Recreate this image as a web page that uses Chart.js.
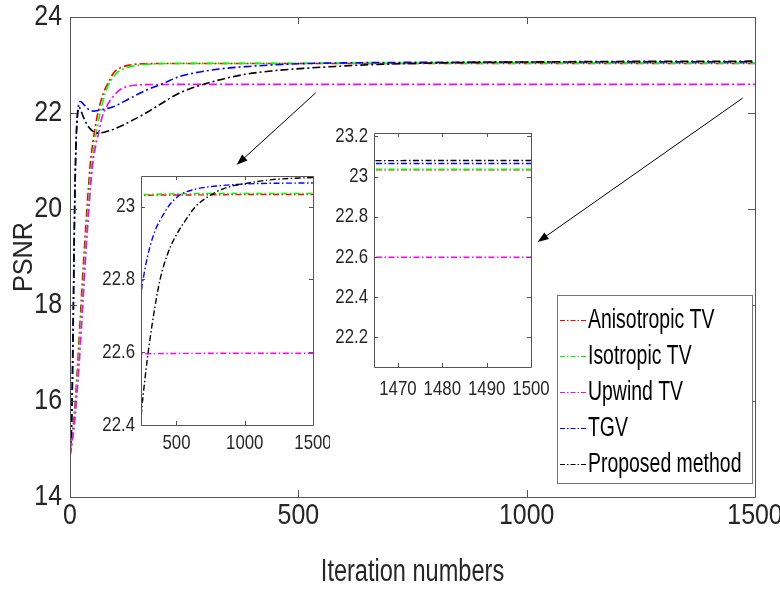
<!DOCTYPE html>
<html>
<head>
<meta charset="utf-8">
<script src="https://cdn.jsdelivr.net/npm/chart.js@4.4.0/dist/chart.umd.min.js"></script>
<style>
  html, body { margin: 0; padding: 0; background: #fff; }
  #wrap { position: relative; width: 780px; height: 590px; overflow: hidden; }
  canvas { position: absolute; }
  #mainChart { left: 0; top: 0; }
  #zoomA { left: 90px; top: 166px; }
  #zoomB { left: 320px; top: 120px; }
</style>
</head>
<body>
<div id="wrap">
  <canvas id="mainChart" width="780" height="590"></canvas>
  <canvas id="zoomA" width="240" height="300"></canvas>
  <canvas id="zoomB" width="240" height="290"></canvas>
</div>
<script>
const seriesNames = ['Anisotropic TV', 'Isotropic TV', 'Upwind TV', 'TGV', 'Proposed method'];
const seriesColors = ['#ff0000', '#00ff00', '#ff00ff', '#0000ff', '#000000'];

// PSNR vs iteration
const anisoIter = [0, 5, 10, 15, 20, 25, 30, 35, 40, 45, 50, 60, 73, 85, 95, 110, 131, 160, 200, 600, 1000, 1500];
const anisoPsnr = [14.85, 15.3, 15.8, 16.5, 17.3, 18.15, 18.95, 19.7, 20.4, 21.0, 21.38, 21.95, 22.41, 22.65, 22.83, 22.94, 23.0, 23.025, 23.03, 23.032, 23.033, 23.033];

const isoIter = [0, 5, 10, 15, 20, 25, 30, 35, 40, 45, 50, 55, 65, 77, 90, 102, 120, 146, 180, 250, 1000, 1500];
const isoPsnr = [14.85, 15.2, 15.65, 16.3, 17.0, 17.8, 18.6, 19.35, 20.05, 20.7, 21.1, 21.44, 21.95, 22.41, 22.68, 22.83, 22.93, 22.99, 23.02, 23.033, 23.036, 23.036];

const upwindIter = [0, 5, 10, 15, 20, 25, 30, 35, 40, 45, 50, 56, 62, 70, 80, 95, 109, 125, 146, 180, 1000, 1500];
const upwindPsnr = [14.85, 15.15, 15.55, 16.1, 16.75, 17.5, 18.3, 19.1, 19.8, 20.45, 20.95, 21.3, 21.55, 21.9, 22.13, 22.35, 22.48, 22.55, 22.58, 22.595, 22.597, 22.597];

const tgvIter = [0, 4, 7, 10, 13, 16, 19, 23, 30, 40, 51, 65, 80, 95, 130, 168, 200, 240, 270, 306, 350, 391, 450, 525, 630, 757, 1000, 1500];
const tgvPsnr = [14.9, 15.6, 17.5, 19.8, 21.3, 21.95, 22.18, 22.24, 22.18, 22.08, 22.04, 22.06, 22.09, 22.13, 22.3, 22.48, 22.6, 22.76, 22.83, 22.89, 22.94, 22.97, 23.005, 23.032, 23.047, 23.055, 23.062, 23.065];

const propIter = [0, 4, 7, 10, 13, 16, 20, 25, 30, 40, 50, 58, 75, 100, 131, 170, 204, 240, 270, 300, 340, 380, 440, 511, 580, 635, 730, 850, 1000, 1200, 1500];
const propPsnr = [14.9, 15.8, 17.8, 20.0, 21.3, 21.9, 22.12, 22.02, 21.9, 21.72, 21.62, 21.58, 21.6, 21.68, 21.82, 22.02, 22.22, 22.42, 22.53, 22.62, 22.72, 22.8, 22.875, 22.93, 22.97, 22.998, 23.027, 23.05, 23.063, 23.074, 23.08];

// tick labels
const mainXTicks = [0, 500, 1000, 1500];
const mainYTicks = [14, 16, 18, 20, 22, 24];
const zoomAXTicks = [500, 1000, 1500];
const zoomAYTicks = [22.4, 22.6, 22.8, 23];
const zoomBXTicks = [1470, 1480, 1490, 1500];
const zoomBYTicks = [22.2, 22.4, 22.6, 22.8, 23, 23.2];

// arrows pointing at the zoomed regions, in data units of the main axes
const arrowNotes = [
  { from: [538, 22.42], to: [365, 20.92] },
  { from: [1473, 22.31], to: [1024, 19.31] }
];

const FONT = "'Liberation Sans', Arial, sans-serif";
const TXT = '#262626';
// the figure uses a narrow face; squeeze the text horizontally per font size
const squeezeBySize = { '30': 0.83, '31': 0.76, '27': 0.72, '21': 0.8, '28': 0.9 };

function squeezeText(canvas) {
  const ctx = canvas.getContext('2d');
  const orig = ctx.fillText;
  ctx.fillText = function (t, x, y, mw) {
    const m = /(\d+(?:\.\d+)?)px/.exec(this.font);
    const f = m ? (squeezeBySize[m[1]] || 1) : 1;
    const w = this.measureText(t).width * f;
    return orig.call(this, t, x, y, mw ? Math.min(mw, w) : w);
  };
  return ctx;
}

const allIters = [anisoIter, isoIter, upwindIter, tgvIter, propIter];
const allPsnr = [anisoPsnr, isoPsnr, upwindPsnr, tgvPsnr, propPsnr];

function makeDatasets(width, dash) {
  return seriesNames.map((name, i) => ({
    label: name,
    data: allIters[i].map((it, k) => ({ x: it, y: allPsnr[i][k] })),
    borderColor: seriesColors[i],
    borderWidth: width,
    borderDash: dash,
    pointRadius: 0,
    fill: false,
    cubicInterpolationMode: 'monotone',
    order: seriesNames.length - i
  }));
}

function fmt(v) { return String(+Number(v).toFixed(1)); }

function axis(min, max, ticks, fontSize, pad, size, horiz, title) {
  const o = {
    type: 'linear',
    min: min,
    max: max,
    grid: { display: false, drawTicks: false },
    border: { display: false },
    afterBuildTicks: s => { s.ticks = ticks.map(v => ({ value: v })); },
    afterFit: s => {
      if (horiz) s.height = size; else s.width = size;
      s.paddingLeft = 0; s.paddingRight = 0; s.paddingTop = 0; s.paddingBottom = 0;
    },
    ticks: {
      color: TXT,
      padding: pad,
      autoSkip: false,
      maxRotation: 0,
      font: { family: FONT, size: fontSize, lineHeight: 1 },
      callback: v => fmt(v)
    }
  };
  if (title) o.title = title;
  return o;
}

// MATLAB-like box with inward ticks on all four sides
const boxPlugin = {
  id: 'matBox',
  beforeDatasetsDraw(chart) {
    const { ctx, chartArea: a } = chart;
    ctx.save();
    ctx.fillStyle = '#fff';
    ctx.fillRect(a.left, a.top, a.right - a.left, a.bottom - a.top);
    ctx.restore();
  },
  afterDatasetsDraw(chart, args, opts) {
    const { ctx, chartArea: a, scales } = chart;
    const len = opts.tick || 6;
    ctx.save();
    ctx.strokeStyle = '#555';
    ctx.lineWidth = 1;
    ctx.beginPath();
    ctx.rect(Math.round(a.left) + 0.5, Math.round(a.top) + 0.5, Math.round(a.right - a.left), Math.round(a.bottom - a.top));
    scales.x.ticks.forEach(t => {
      const px = Math.round(scales.x.getPixelForValue(t.value)) + 0.5;
      ctx.moveTo(px, a.bottom); ctx.lineTo(px, a.bottom - len);
      ctx.moveTo(px, a.top); ctx.lineTo(px, a.top + len);
    });
    scales.y.ticks.forEach(t => {
      const py = Math.round(scales.y.getPixelForValue(t.value)) + 0.5;
      ctx.moveTo(a.left, py); ctx.lineTo(a.left + len, py);
      ctx.moveTo(a.right, py); ctx.lineTo(a.right - len, py);
    });
    ctx.stroke();
    ctx.restore();
  }
};

// legend box inside the axes + arrows
const notesPlugin = {
  id: 'notes',
  afterDraw(chart) {
    const { ctx, chartArea: a, scales: { x, y } } = chart;
    ctx.save();
    ctx.strokeStyle = '#000';
    ctx.fillStyle = '#000';
    ctx.lineWidth = 1;
    arrowNotes.forEach(n => {
      const x0 = x.getPixelForValue(n.from[0]), y0 = y.getPixelForValue(n.from[1]);
      const x1 = x.getPixelForValue(n.to[0]), y1 = y.getPixelForValue(n.to[1]);
      const c = Math.cos(Math.atan2(y1 - y0, x1 - x0)), s = Math.sin(Math.atan2(y1 - y0, x1 - x0));
      ctx.beginPath();
      ctx.moveTo(x0, y0); ctx.lineTo(x1 - 8 * c, y1 - 8 * s);
      ctx.stroke();
      ctx.beginPath();
      ctx.moveTo(x1, y1);
      ctx.lineTo(x1 - 11 * c + 4 * s, y1 - 11 * s - 4 * c);
      ctx.lineTo(x1 - 11 * c - 4 * s, y1 - 11 * s + 4 * c);
      ctx.closePath();
      ctx.fill();
    });

    const bx = a.right - 198, by = a.bottom - 202, bw = 195, bh = 188;
    ctx.fillStyle = '#fff';
    ctx.fillRect(bx, by, bw, bh);
    ctx.strokeStyle = '#777';
    ctx.strokeRect(bx + 0.5, by + 0.5, bw, bh);
    ctx.font = '27px ' + FONT;
    ctx.textBaseline = 'middle';
    ctx.textAlign = 'left';
    chart.data.datasets.forEach((ds, i) => {
      const cy = by + 25 + i * 36;
      ctx.strokeStyle = ds.borderColor;
      ctx.lineWidth = 1;
      ctx.setLineDash([5, 2, 1.5, 2]);
      ctx.beginPath();
      ctx.moveTo(bx + 3, cy + 0.5); ctx.lineTo(bx + 29, cy + 0.5);
      ctx.stroke();
      ctx.setLineDash([]);
      ctx.fillStyle = '#000';
      ctx.fillText(ds.label, bx + 31, cy + 1);
    });
    ctx.restore();
  }
};

const common = {
  responsive: false,
  animation: false,
  events: []
};
const noLegend = { legend: { display: false }, tooltip: { enabled: false } };

new Chart(squeezeText(document.getElementById('mainChart')), {
  type: 'line',
  data: { datasets: makeDatasets(1.6, [8, 3, 2, 3]) },
  options: Object.assign({}, common, {
    layout: { padding: { top: 17, right: 25, left: 0, bottom: 0 } },
    plugins: Object.assign({}, noLegend, { matBox: { tick: 7 } }),
    scales: {
      x: axis(0, 1500, mainXTicks, 30, 4, 93, true,
        { display: true, text: 'Iteration numbers', color: TXT, font: { family: FONT, size: 31, lineHeight: 1.1 }, padding: { top: 2, bottom: 0 } }),
      y: axis(14, 24, mainYTicks, 30, 8, 70, false,
        { display: true, text: 'PSNR', color: TXT, font: { family: FONT, size: 28, lineHeight: 1.2 }, padding: { top: 7, bottom: 2 } })
    }
  }),
  plugins: [boxPlugin, notesPlugin]
});

new Chart(squeezeText(document.getElementById('zoomA')), {
  type: 'line',
  data: { datasets: makeDatasets(1.4, [6, 2.5, 1.5, 2.5]) },
  options: Object.assign({}, common, {
    layout: { padding: { top: 10, right: 17, left: 0, bottom: 0 } },
    plugins: Object.assign({}, noLegend, { matBox: { tick: 4 } }),
    scales: {
      x: axis(240, 1500, zoomAXTicks, 21, 8, 41, true),
      y: axis(22.4, 23.084, zoomAYTicks, 21, 6, 51, false)
    }
  }),
  plugins: [boxPlugin]
});

new Chart(squeezeText(document.getElementById('zoomB')), {
  type: 'line',
  data: { datasets: makeDatasets(1.4, [6, 2.5, 1.5, 2.5]) },
  options: Object.assign({}, common, {
    layout: { padding: { top: 13, right: 29, left: 0, bottom: 0 } },
    plugins: Object.assign({}, noLegend, { matBox: { tick: 4 } }),
    scales: {
      x: axis(1464.6, 1500, zoomBXTicks, 21, 12, 43, true),
      y: axis(22.05, 23.217, zoomBYTicks, 21, 6, 54, false)
    }
  }),
  plugins: [boxPlugin]
});
</script>
</body>
</html>
